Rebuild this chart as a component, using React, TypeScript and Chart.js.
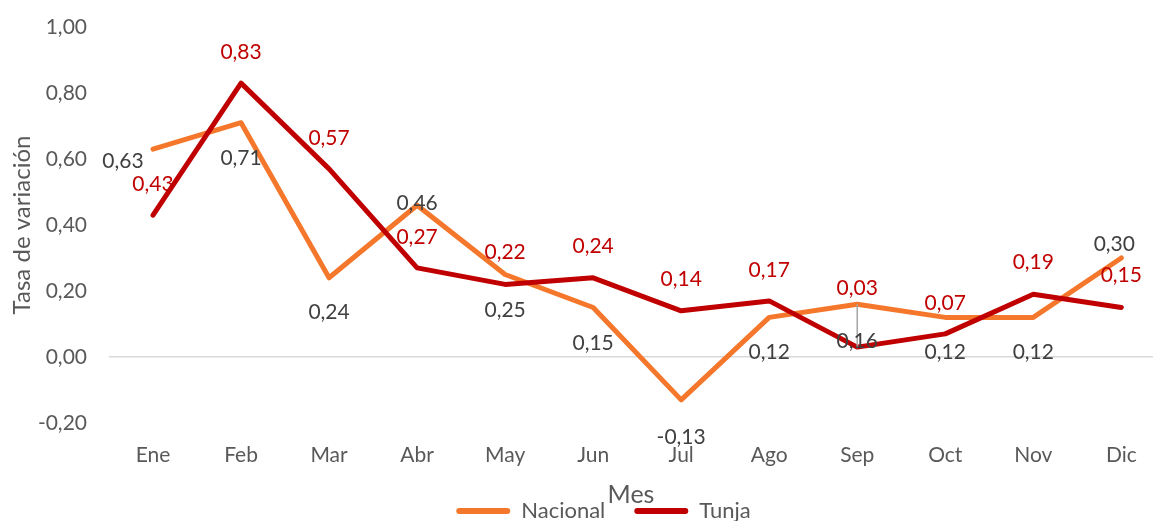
import React, { useEffect, useRef } from "react";
import { Chart, registerables } from "chart.js";

Chart.register(...registerables);

const months = ["Ene", "Feb", "Mar", "Abr", "May", "Jun", "Jul", "Ago", "Sep", "Oct", "Nov", "Dic"];
const nacional = [0.63, 0.71, 0.24, 0.46, 0.25, 0.15, -0.13, 0.12, 0.16, 0.12, 0.12, 0.3];
const tunja = [0.43, 0.83, 0.57, 0.27, 0.22, 0.24, 0.14, 0.17, 0.03, 0.07, 0.19, 0.15];
const yTickMin = -0.2;
const yTickMax = 1.0;
const yTickStep = 0.2;

// label placement relative to each point [dx, dy]
const nacionalLabelOffsets = [
  [-30, 12], [0, 36], [0, 34], [0, -2], [0, 36], [0, 36],
  [0, 37], [0, 35], [0, 37], [0, 35], [0, 35], [-7, -14],
];
const tunjaLabelOffsets = [
  [0, -31], [0, -31], [0, -31], [0, -31], [0, -32], [0, -32],
  [0, -32], [0, -31], [0, -59], [0, -31], [0, -32], [0, -32],
];
const nacionalLeaders = [false, false, false, false, false, false, false, false, true, false, false, false];

const FONT = "Lato";
const ORANGE = "#F4772B";
const RED = "#C00000";
const GRAY = "#595959";

const fmt = (v: number) => (Math.abs(v) < 1e-9 ? 0 : v).toFixed(2).replace(".", ",");

const labelCfg = [
  { values: nacional, offsets: nacionalLabelOffsets, color: "#404040", leaders: nacionalLeaders },
  { values: tunja, offsets: tunjaLabelOffsets, color: RED, leaders: null as boolean[] | null },
];

const valueLabels = {
  id: "valueLabels",
  afterDatasetsDraw(chart: any) {
    const ctx = chart.ctx;
    ctx.save();
    ctx.font = `21px ${FONT}`;
    ctx.textAlign = "center";
    ctx.textBaseline = "middle";
    labelCfg.forEach((cfg, di) => {
      const meta = chart.getDatasetMeta(di);
      meta.data.forEach((pt: any, i: number) => {
        const [dx, dy] = cfg.offsets[i];
        const x = pt.x + dx;
        const y = pt.y + dy;
        if (cfg.leaders && cfg.leaders[i]) {
          ctx.strokeStyle = "#A6A6A6";
          ctx.lineWidth = 1.5;
          ctx.beginPath();
          ctx.moveTo(pt.x, pt.y);
          ctx.lineTo(pt.x, y + 7);
          ctx.stroke();
        }
        ctx.fillStyle = cfg.color;
        ctx.fillText(fmt(cfg.values[i]), x, y);
      });
    });
    ctx.restore();
  },
};

const shiftLegend = {
  id: "shiftLegend",
  afterLayout(chart: any) {
    const l = chart.legend;
    if (l) {
      l.left += 27;
      l.right += 27;
    }
  },
};

export default function App() {
  const ref = useRef<HTMLCanvasElement | null>(null);
  useEffect(() => {
    document.body.style.margin = "0";
    if (!ref.current) return;
    const chart = new Chart(ref.current, {
      type: "line",
      data: {
        datasets: [
          {
            label: "Nacional",
            data: nacional.map((v, i) => ({ x: i, y: v })),
            borderColor: ORANGE,
            backgroundColor: ORANGE,
            borderWidth: 5,
            pointRadius: 0,
            borderJoinStyle: "round",
            borderCapStyle: "round",
            order: 1,
          },
          {
            label: "Tunja",
            data: tunja.map((v, i) => ({ x: i, y: v })),
            borderColor: RED,
            backgroundColor: RED,
            borderWidth: 5,
            pointRadius: 0,
            borderJoinStyle: "round",
            borderCapStyle: "round",
            order: 0,
          },
        ],
      },
      options: {
        responsive: false,
        animation: false,
        layout: { padding: { top: 27, left: 0, right: 0, bottom: -11 } },
        plugins: {
          tooltip: { enabled: false },
          legend: {
            position: "bottom",
            labels: {
              font: { family: FONT, size: 22 },
              color: GRAY,
              boxWidth: 54,
              boxHeight: 6,
              useBorderRadius: true,
              borderRadius: 3,
              padding: 29,
              sort: (a: any, b: any) => a.datasetIndex - b.datasetIndex,
              generateLabels: (c: any) =>
                Chart.defaults.plugins.legend.labels.generateLabels(c).map((it: any) => ({
                  ...it,
                  lineWidth: 0,
                  strokeStyle: "rgba(0,0,0,0)",
                })),
            },
          },
        },
        scales: {
          x: {
            type: "linear",
            min: -0.5,
            max: 11.36,
            grid: { display: false, drawTicks: false },
            border: { display: false },
            afterBuildTicks: (scale: any) => {
              scale.ticks = months.map((_, i) => ({ value: i }));
            },
            afterFit: (scale: any) => {
              scale.height = 48;
              scale.paddingLeft = 0;
              scale.paddingRight = 0;
            },
            ticks: {
              autoSkip: false,
              maxRotation: 0,
              padding: 20,
              color: GRAY,
              font: { family: FONT, size: 21 },
              callback: (v: any) => months[Math.round(Number(v))] ?? "",
            },
            title: {
              display: true,
              text: "Mes",
              color: GRAY,
              font: { family: FONT, size: 25 },
              padding: { top: 0, bottom: -39 },
            },
          },
          y: {
            min: yTickMin,
            max: yTickMax,
            afterFit: (scale: any) => {
              scale.width = 109;
              scale.paddingTop = 0;
              scale.paddingBottom = 0;
            },
            grid: {
              drawTicks: false,
              color: (ctx: any) => (Math.abs(ctx.tick?.value ?? 1) < 1e-9 ? "#D9D9D9" : "rgba(0,0,0,0)"),
              lineWidth: 1.5,
            },
            border: { display: false },
            ticks: {
              stepSize: yTickStep,
              padding: 22,
              color: GRAY,
              font: { family: FONT, size: 21 },
              callback: (v: any) => fmt(Number(v)),
            },
            title: {
              display: true,
              text: "Tasa de variación",
              color: GRAY,
              font: { family: FONT, size: 24 },
              padding: { top: 8, bottom: 0 },
            },
          },
        },
      },
      plugins: [valueLabels, shiftLegend],
    } as any);
    return () => chart.destroy();
  }, []);
  return (
    <div style={{ width: 1153, height: 521 }}>
      <canvas ref={ref} width={1153} height={521} />
    </div>
  );
}
